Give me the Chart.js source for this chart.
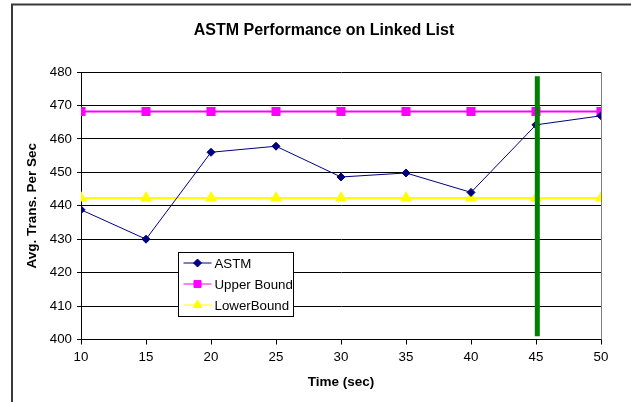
<!DOCTYPE html>
<html>
<head>
<meta charset="utf-8">
<title>ASTM Performance on Linked List</title>
<script src="https://cdn.jsdelivr.net/npm/chart.js@4.4.1/dist/chart.umd.min.js"></script>
<style>
  html, body { margin: 0; padding: 0; background: #fff; }
  #wrap { width: 631px; height: 402px; }
</style>
</head>
<body>
<div id="wrap"><canvas id="chart" width="631" height="402"></canvas></div>
<script>
const FONT = "'Liberation Sans', Arial, sans-serif";

// data
const times = [10, 15, 20, 25, 30, 35, 40, 45, 50];
const astm = [438.8, 430, 456, 457.8, 448.6, 449.8, 444, 464.2, 466.9];
const upperBound = [468.2, 468.2, 468.2, 468.2, 468.2, 468.2, 468.2, 468.2, 468.2];
const lowerBound = [442.3, 442.3, 442.3, 442.3, 442.3, 442.3, 442.3, 442.3, 442.3];
const markerTime = 45.1;
const markerSpan = [401, 478.7];
const yRange = [400, 480];
const xRange = [10, 50];
const TITLE = 'ASTM Performance on Linked List';

const NAVY = '#000080';
const MAGENTA = '#ff00ff';
const YELLOW = '#ffff00';
const GREEN = '#008000';

function pts(ys) {
  return ys.map((y, i) => ({ x: times[i], y }));
}

/* white page, outer frame, chart title, grey plot border on the right */
const frame = {
  id: 'frame',
  beforeDraw(chart) {
    const ctx = chart.ctx;
    ctx.save();
    ctx.fillStyle = '#fff';
    ctx.fillRect(0, 0, chart.width, chart.height);
    ctx.strokeStyle = '#3a3a3a';
    ctx.lineWidth = 2;
    ctx.beginPath();
    ctx.moveTo(12, 402);
    ctx.lineTo(12, 4.5);
    ctx.lineTo(631, 4.5);
    ctx.stroke();
    // title is offset from the plot centre in the original, so draw it here
    ctx.fillStyle = '#000';
    ctx.font = 'bold 16px ' + FONT;
    ctx.textAlign = 'center';
    ctx.textBaseline = 'middle';
    ctx.fillText(TITLE, 324, 31);
    ctx.restore();
  },
  beforeDatasetsDraw(chart) {
    const { ctx, chartArea: a } = chart;
    ctx.save();
    ctx.strokeStyle = '#808080';
    ctx.lineWidth = 1;
    ctx.beginPath();
    ctx.moveTo(Math.round(a.right) + 0.5, a.top);
    ctx.lineTo(Math.round(a.right) + 0.5, a.bottom);
    ctx.stroke();
    ctx.restore();
  }
};

/* legend box sitting inside the plot, Excel style */
const legendBox = {
  id: 'legendBox',
  afterDraw(chart) {
    const ctx = chart.ctx;
    const x = 178.5, y = 252.5, w = 115, h = 64;
    ctx.save();
    ctx.fillStyle = '#fff';
    ctx.fillRect(x, y, w, h);
    ctx.strokeStyle = '#000';
    ctx.lineWidth = 1;
    ctx.strokeRect(x, y, w, h);
    ctx.font = '13.3px ' + FONT;
    ctx.textBaseline = 'middle';
    chart.data.datasets.filter(ds => ds.inLegend).forEach((ds, i) => {
      const cy = 263 + i * 21;
      ctx.strokeStyle = ds.borderColor;
      ctx.lineWidth = 1;
      ctx.beginPath();
      ctx.moveTo(x + 5, cy);
      ctx.lineTo(x + 33, cy);
      ctx.stroke();
      ctx.fillStyle = ds.pointBackgroundColor;
      ctx.strokeStyle = ds.pointBorderColor;
      Chart.helpers.drawPoint(ctx, {
        pointStyle: ds.pointStyle, radius: ds.pointRadius, rotation: 0, borderWidth: 1
      }, x + 19, cy);
      ctx.fillStyle = '#000';
      ctx.fillText(ds.label, x + 36, cy + 1);
    });
    ctx.restore();
  }
};

new Chart(document.getElementById('chart'), {
  type: 'line',
  data: {
    datasets: [
      {
        label: 'marker',
        data: [{ x: markerTime, y: markerSpan[0] }, { x: markerTime, y: markerSpan[1] }],
        borderColor: GREEN,
        borderWidth: 5,
        borderCapStyle: 'butt',
        pointRadius: 0
      },
      {
        label: 'ASTM',
        inLegend: true,
        data: pts(astm),
        borderColor: NAVY,
        borderWidth: 1,
        pointStyle: 'rectRot',
        pointRadius: 4,
        pointBackgroundColor: NAVY,
        pointBorderColor: NAVY
      },
      {
        label: 'Upper Bound',
        inLegend: true,
        data: pts(upperBound),
        borderColor: MAGENTA,
        borderWidth: 2,
        pointStyle: 'rect',
        pointRadius: 5,
        pointBackgroundColor: MAGENTA,
        pointBorderColor: MAGENTA
      },
      {
        label: 'LowerBound',
        inLegend: true,
        data: pts(lowerBound),
        borderColor: YELLOW,
        borderWidth: 2,
        pointStyle: 'triangle',
        pointRadius: 5,
        pointBackgroundColor: YELLOW,
        pointBorderColor: YELLOW
      }
    ]
  },
  options: {
    responsive: false,
    animation: false,
    layout: { padding: { left: 12, right: 30, top: 72, bottom: 0 } },
    plugins: {
      legend: { display: false },
      tooltip: { enabled: false },
      title: { display: false }
    },
    scales: {
      x: {
        type: 'linear',
        min: xRange[0],
        max: xRange[1],
        afterFit(s) { s.height = 62.5; },
        ticks: { stepSize: 5, color: '#000', padding: 5, font: { family: FONT, size: 13.3 } },
        grid: { drawOnChartArea: false, drawTicks: true, tickLength: 5, color: '#000' },
        border: { color: '#000', width: 1 },
        title: {
          display: true,
          text: 'Time (sec)',
          color: '#000',
          font: { family: FONT, size: 13.5, weight: 'bold' },
          padding: { top: 0, bottom: 12 }
        }
      },
      y: {
        min: yRange[0],
        max: yRange[1],
        afterFit(s) { s.width = 69; },
        ticks: { stepSize: 10, color: '#000', padding: 5, font: { family: FONT, size: 13.3 } },
        grid: { color: '#000', tickLength: 4 },
        border: { color: '#000', width: 1 },
        title: {
          display: true,
          text: 'Avg. Trans. Per Sec',
          color: '#000',
          font: { family: FONT, size: 13.5, weight: 'bold' },
          padding: { top: 12.5, bottom: 0 }
        }
      }
    }
  },
  plugins: [frame, legendBox]
});
</script>
</body>
</html>
